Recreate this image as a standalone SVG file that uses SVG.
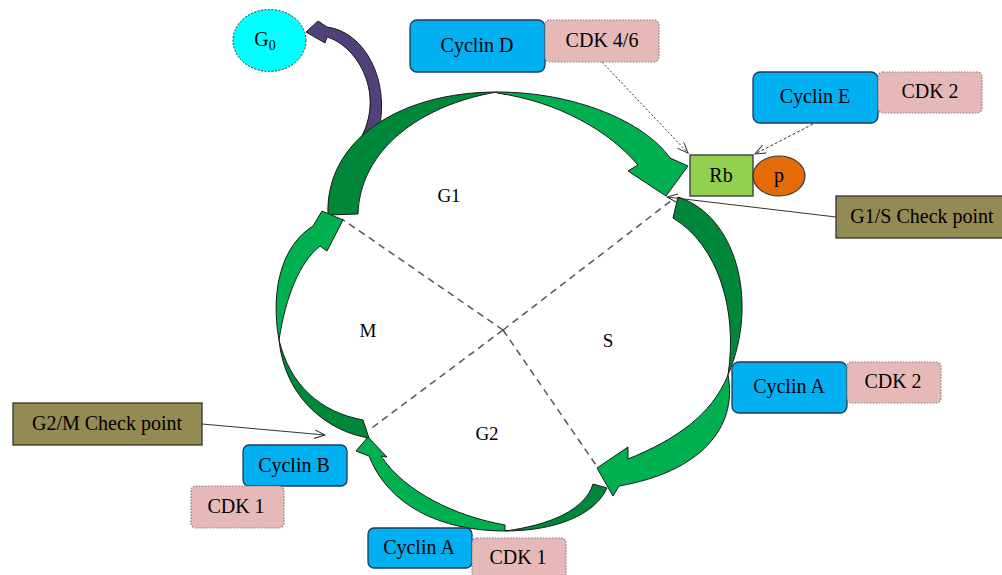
<svg xmlns="http://www.w3.org/2000/svg" width="1002" height="575" viewBox="0 0 1002 575" font-family="'Liberation Serif', 'DejaVu Serif', serif">
<defs>
<style>
text{font-family:'Liberation Serif','DejaVu Serif',serif;font-size:20px;fill:#000;text-anchor:middle}
.ph{font-size:19px}
.cyc{fill:#00B0F0;stroke:#1F3A5F;stroke-width:1.3}
.cdk{fill:#E6B9B8;stroke:#7F7F7F;stroke-width:1.2;stroke-dasharray:1.5 1.5}
.chk{fill:#948A54;stroke:#333;stroke-width:1.3}
.lt{fill:#00B050;stroke:#1a1a1a;stroke-width:1}
.dk{fill:#00883A;stroke:#1a1a1a;stroke-width:1}
.div{stroke:#555;stroke-width:1.5;stroke-dasharray:7 5;fill:none}
.con{stroke:#333;stroke-width:1;fill:none;marker-end:url(#open)}
</style>
<marker id="open" markerUnits="userSpaceOnUse" markerWidth="12" markerHeight="10" refX="11" refY="4.5" orient="auto">
<path d="M0,0 L11,4.5 L0,9" fill="none" stroke="#333" stroke-width="1"/>
</marker>
</defs>
<rect width="1002" height="575" fill="#fff"/>

<g id="dividers">
<line class="div" x1="503" y1="330" x2="342" y2="219"/>
<line class="div" x1="503" y1="330" x2="672" y2="200"/>
<line class="div" x1="503" y1="330" x2="369" y2="430"/>
<line class="div" x1="503" y1="330" x2="598" y2="468"/>
</g>

<g id="cycle-arrows">
<g id="arrow-g0">
<path d="M306,32 L318,21 L327,27 C365,32 390,80 379,130 L362,136 C385,90 355,45 327,37 L325,43 Z" fill="#50417A" stroke="#1a1a1a" stroke-width="1"/>
</g>
<g id="arrow-g1">
<path class="dk" d="M328,215 C325,140 400,92 497,92 C420,105 360,150 358,214 Z"/>
<path class="lt" d="M497,92 C575,92 645,122 670,158 L688,166 L666,196 L628,171 L638,165 C610,132 560,102 497,93 Z"/>
</g>
<g id="arrow-m">
<path class="dk" d="M369,438 C330,432 285,400 279,340 C290,385 320,412 363,420 Z"/>
<path class="lt" d="M279,340 C270,290 282,245 313,226 L322,211 L343,220 L327,251 L320,246 C300,262 286,295 279,340 Z"/>
</g>
<g id="arrow-s">
<path class="dk" d="M678,197 C735,215 760,300 728,375 C738,310 718,245 673,218 Z"/>
<path class="lt" d="M728,375 C738,428 700,472 619,486 L613,496 L597,468 L628,447 L628,459 C675,440 712,415 728,375 Z"/>
</g>
<g id="arrow-g2">
<path class="dk" d="M607,488 C595,515 555,531 505,531 C550,525 585,510 593,484 Z"/>
<path class="lt" d="M505,531 C440,531 388,505 369,456 L356,451 L368,437 L387,457 L381,456 C405,492 455,516 505,525 Z"/>
</g>
</g>

<g id="connectors">
<line class="con" x1="602" y1="62" x2="688" y2="153" stroke-dasharray="2 2"/>
<line class="con" x1="813" y1="124" x2="755" y2="154" stroke-dasharray="3 2"/>
<line class="con" x1="836" y1="217" x2="667" y2="197"/>
<line class="con" x1="202" y1="424" x2="325" y2="435"/>
</g>

<g id="phase-labels">
<text class="ph" x="449" y="202">G1</text>
<text class="ph" x="368" y="337">M</text>
<text class="ph" x="608" y="347">S</text>
<text class="ph" x="487" y="440">G2</text>
</g>

<g id="g0">
<ellipse cx="269.5" cy="40.5" rx="36.5" ry="31" fill="#00FFFF" stroke="#333" stroke-width="1" stroke-dasharray="2 1.5"/>
<text x="265" y="46">G<tspan font-size="14" dy="4">0</tspan></text>
</g>

<g id="cyclin-d">
<rect class="cyc" x="410" y="20" width="135" height="52" rx="7"/>
<text x="477" y="52">Cyclin D</text>
</g>
<g id="cdk46">
<rect class="cdk" x="545" y="20" width="114" height="42" rx="5"/>
<text x="602" y="47">CDK 4/6</text>
</g>
<g id="cyclin-e">
<rect class="cyc" x="753" y="72" width="125" height="51" rx="7"/>
<text x="815" y="103">Cyclin E</text>
</g>
<g id="cdk2-top">
<rect class="cdk" x="878" y="72" width="104" height="41" rx="5"/>
<text x="930" y="98">CDK 2</text>
</g>
<g id="rb">
<rect x="690" y="155" width="63" height="41" fill="#92D050" stroke="#333" stroke-width="1.3"/>
<text x="721" y="182">Rb</text>
</g>
<g id="p">
<ellipse cx="779" cy="176" rx="26" ry="20" fill="#E36C09" stroke="#333" stroke-width="1.2"/>
<text x="779" y="182">p</text>
</g>
<g id="g1s-check">
<rect class="chk" x="836" y="196" width="170" height="42"/>
<text x="922" y="223">G1/S Check point</text>
</g>
<g id="cyclin-a-right">
<rect class="cyc" x="732" y="362" width="115" height="51" rx="7"/>
<text x="789" y="393">Cyclin A</text>
</g>
<g id="cdk2-right">
<rect class="cdk" x="847" y="362" width="94" height="41" rx="5"/>
<text x="893" y="388">CDK 2</text>
</g>
<g id="g2m-check">
<rect class="chk" x="13" y="403" width="189" height="42"/>
<text x="107" y="430">G2/M Check point</text>
</g>
<g id="cyclin-b">
<rect class="cyc" x="243" y="445" width="104" height="41" rx="6"/>
<text x="294" y="472">Cyclin B</text>
</g>
<g id="cdk1-left">
<rect class="cdk" x="191" y="486" width="93" height="42" rx="5"/>
<text x="236" y="513">CDK 1</text>
</g>
<g id="cyclin-a-bottom">
<rect class="cyc" x="368" y="528" width="104" height="40" rx="6"/>
<text x="419" y="554">Cyclin A</text>
</g>
<g id="cdk1-bottom">
<rect class="cdk" x="472" y="538" width="94" height="42" rx="5"/>
<text x="518" y="564">CDK 1</text>
</g>
</svg>
